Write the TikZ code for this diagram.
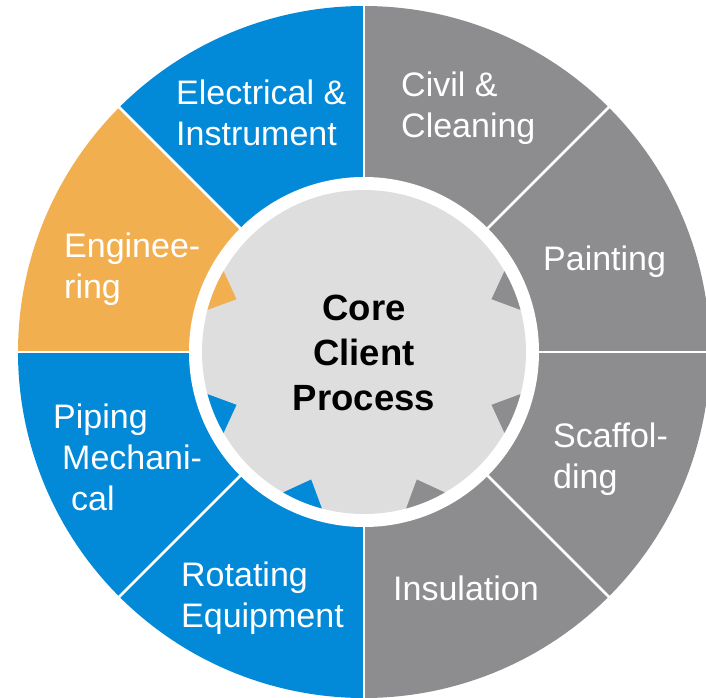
\documentclass[tikz,border=0pt]{standalone}
\usepackage{fontspec}
\setmainfont{Liberation Sans}
\usepackage{tikz}
\usetikzlibrary{positioning}

\definecolor{cblue}{RGB}{2,137,216}
\definecolor{cgray}{RGB}{141,141,143}
\definecolor{corange}{RGB}{242,175,80}
\definecolor{cdisk}{RGB}{222,222,222}

\begin{document}
\begin{tikzpicture}[x=1pt,y=1pt,
		lbl/.style={text=white, font=\fontsize{34}{41}\selectfont, align=left, anchor=base west, inner sep=0pt},
		hub/.style={text=black, font=\fontsize{36.5}{45}\selectfont\bfseries, align=center, anchor=base, inner sep=0pt}]
		\useasboundingbox (-364,-345) rectangle (342,352);
		% ring segments
		\foreach \a/\c in {0/cgray,45/cgray,90/cblue,135/corange,180/cblue,225/cblue,270/cgray,315/cgray}
			\fill[\c] (0,0) -- (\a:346) arc[start angle=\a, end angle=\a+45, radius=346] -- cycle;
		\foreach \a in {0,45,...,315}
			\draw[white, line width=2.5pt] (0,0) -- (\a:347);
		% gear in the middle
		\fill[white] (0,0) circle (175);
		\fill[cdisk] (0,0) circle (162);
		\begin{scope}
			\clip (0,0) circle (162);
			\foreach \a/\c in {22.5/cgray,157.5/corange,202.5/cblue,247.5/cblue,292.5/cgray,337.5/cgray}
				\fill[\c] (\a-11:178) -- (\a:138) -- (\a+11:178) -- cycle;
		\end{scope}
		
		% labels (base = last line)
		\node[lbl] (elec) at (-188,207) {Electrical \&\\Instrument};
		\node[lbl] (civil) at (37,215) {Civil \&\\Cleaning};
		\node[lbl] (paint) at (179,82) {Painting};
		\node[lbl] (scaf) at (189,-136) {Scaffol-\\ding};
		\node[lbl] (insul) at (29,-248) {Insulation};
		\node[lbl] (rot) at (-183,-275) {Rotating\\Equipment};
		\node[lbl] (pipe) at (-311,-158) {Piping\\\hspace*{9pt}Mechani-\\\hspace*{18pt}cal};
		\node[lbl] (eng) at (-300,54) {Enginee-\\ring};
		\node[hub] (core) at (0,-58) {Core\\Client\\Process};
\end{tikzpicture}
\end{document}
